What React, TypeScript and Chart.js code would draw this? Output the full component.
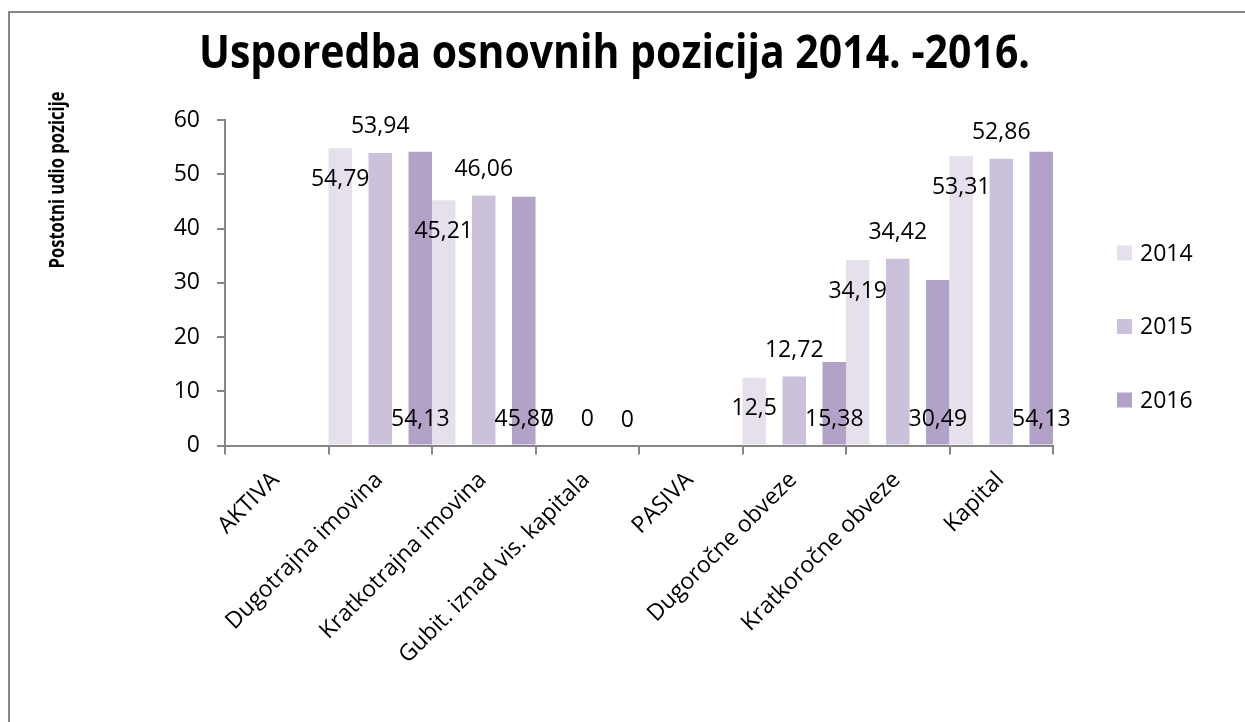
import { useEffect, useRef } from "react";
import { Chart, registerables } from "chart.js";

Chart.register(...registerables);

const categories = [
  "AKTIVA",
  "Dugotrajna imovina",
  "Kratkotrajna imovina",
  "Gubit. iznad vis. kapitala",
  "PASIVA",
  "Dugoročne obveze",
  "Kratkoročne obveze",
  "Kapital",
];
const seriesNames = ["2014", "2015", "2016"];
const values2014 = [null, 54.79, 45.21, 0, null, 12.5, 34.19, 53.31];
const values2015 = [null, 53.94, 46.06, 0, null, 12.72, 34.42, 52.86];
const values2016 = [null, 54.13, 45.87, 0, null, 15.38, 30.49, 54.13];
const yTicks = [0, 10, 20, 30, 40, 50, 60];
const seriesColors = ["#E6E0EC", "#CCC1DA", "#B3A2C7"];
const titleText = "Usporedba osnovnih pozicija 2014. -2016.";
const yTitleText = "Postotni udio pozicije";

const FONT = '"Open Sans", sans-serif';
const AXIS_COLOR = "#868686";

const fmt = (v: number) => String(v).replace(".", ",");

// draw centered text condensed along its baseline to a target width
function drawFitted(
  ctx: CanvasRenderingContext2D,
  text: string,
  cx: number,
  cy: number,
  font: string,
  targetWidth: number,
  rotate: number,
  baseline: CanvasTextBaseline
) {
  ctx.save();
  ctx.font = font;
  const w = ctx.measureText(text).width;
  const sx = Math.min(1, targetWidth / w);
  ctx.translate(cx, cy);
  ctx.rotate(rotate);
  ctx.scale(sx, 1);
  ctx.textAlign = "center";
  ctx.textBaseline = baseline;
  ctx.fillText(text, 0, 0);
  ctx.restore();
}

const decoPlugin = {
  id: "deco",
  afterDraw(chart: any) {
    const ctx = chart.ctx as CanvasRenderingContext2D;
    ctx.save();
    // outer border (top and left visible)
    ctx.strokeStyle = AXIS_COLOR;
    ctx.lineWidth = 2;
    ctx.beginPath();
    ctx.moveTo(9, 730);
    ctx.lineTo(9, 12);
    ctx.lineTo(1250, 12);
    ctx.stroke();

    ctx.fillStyle = "#000";
    // title
    drawFitted(ctx, titleText, 614.5, 68, `bold 46px ${FONT}`, 831, 0, "alphabetic");
    // y axis title
    drawFitted(ctx, yTitleText, 58, 180, `bold 22px ${FONT}`, 177, -Math.PI / 2, "middle");

    // legend
    ctx.font = `23px ${FONT}`;
    ctx.textAlign = "left";
    ctx.textBaseline = "middle";
    chart.data.datasets.forEach((ds: any, i: number) => {
      const cy = 253 + i * 73.5;
      ctx.fillStyle = ds.backgroundColor;
      ctx.fillRect(1117, cy - 7.5, 15, 15);
      ctx.fillStyle = "#000";
      ctx.fillText(ds.label, 1140, cy + 1);
    });

    // value labels
    ctx.font = `23px ${FONT}`;
    ctx.textAlign = "center";
    ctx.textBaseline = "middle";
    ctx.fillStyle = "#000";
    chart.data.datasets.forEach((ds: any, i: number) => {
      const meta = chart.getDatasetMeta(i);
      meta.data.forEach((el: any, j: number) => {
        const v = ds.data[j];
        if (v === null || v === undefined) return;
        const top = el.y;
        const base = el.base;
        let y;
        if (i === 0) y = Math.min(top + 31, base - 26);
        else if (i === 1) y = top - 26;
        else y = base - 25;
        ctx.fillText(fmt(v), el.x, y);
      });
    });
    ctx.restore();
  },
};

export default function App() {
  const ref = useRef<HTMLCanvasElement | null>(null);

  useEffect(() => {
    document.documentElement.style.overflow = "hidden";
    document.body.style.overflow = "hidden";
    if (!ref.current) return;
    const chart = new Chart(ref.current, {
      type: "bar",
      data: {
        labels: categories,
        datasets: [values2014, values2015, values2016].map((d, i) => ({
          label: seriesNames[i],
          data: d,
          backgroundColor: seriesColors[i],
          borderWidth: 0,
          categoryPercentage: 1.16,
          barPercentage: 0.5875,
        })),
      },
      options: {
        responsive: false,
        animation: false,
        devicePixelRatio: 1,
        layout: { padding: { left: 0, top: 120, right: 192, bottom: 0 } },
        plugins: {
          legend: { display: false },
          title: { display: false },
          tooltip: { enabled: false },
        },
        scales: {
          x: {
            grid: {
              offset: true,
              drawOnChartArea: false,
              drawTicks: true,
              tickLength: 9,
              color: AXIS_COLOR,
              lineWidth: 2,
            },
            border: { display: true, color: AXIS_COLOR, width: 2 },
            ticks: {
              autoSkip: false,
              maxRotation: 45,
              minRotation: 45,
              padding: 12,
              labelOffset: -1,
              color: "#000",
              font: { family: FONT, size: 23 },
            },
            afterFit: (s: any) => {
              s.height = 276.5;
            },
          },
          y: {
            min: 0,
            max: 60,
            grid: {
              drawOnChartArea: false,
              drawTicks: true,
              tickLength: 8,
              color: AXIS_COLOR,
              lineWidth: 2,
            },
            border: { display: true, color: AXIS_COLOR, width: 2 },
            ticks: {
              padding: 17,
              color: "#000",
              font: { family: FONT, size: 23 },
            },
            afterBuildTicks: (s: any) => {
              s.ticks = yTicks.map((v) => ({ value: v }));
            },
            afterFit: (s: any) => {
              s.width = 225;
            },
          },
        },
      },
      plugins: [decoPlugin],
    });
    return () => chart.destroy();
  }, []);

  return (
    <div style={{ position: "fixed", left: 0, top: 0, width: 1245, height: 722, background: "#fff", overflow: "hidden" }}>
      <canvas ref={ref} width={1245} height={722} style={{ display: "block" }} />
    </div>
  );
}
